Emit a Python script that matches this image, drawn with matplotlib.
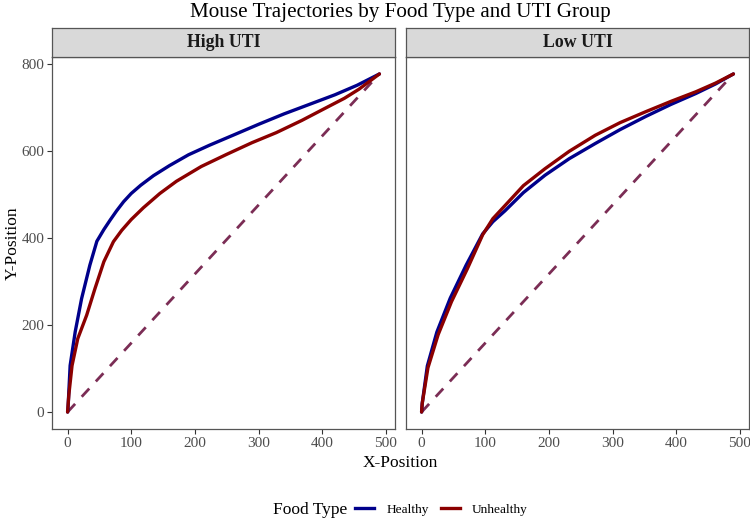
import matplotlib.pyplot as plt
from matplotlib.lines import Line2D

plt.rcParams['font.family'] = ['Liberation Serif', 'DejaVu Serif']

# averaged trajectories
high_healthy_x = [0, 0.6, 4, 12, 22, 35, 46, 57, 67, 77, 88, 100, 115, 135, 160, 190, 223, 260,
                  300, 340, 380, 420, 455, 490]
high_healthy_y = [0, 7, 107, 185, 261, 338, 393, 420, 442, 463, 484, 503, 522, 544, 567, 592, 614,
                  637, 662, 686, 708, 730, 752, 778]
high_unhealthy_x = [0, 2, 7, 16, 30, 43, 57, 72, 85, 100, 119, 145, 171, 210, 250, 290, 328, 368,
                    406, 435, 458, 490]
high_unhealthy_y = [0, 40, 107, 169, 223, 284, 346, 392, 418, 443, 470, 503, 531, 565, 593, 620,
                    643, 671, 700, 722, 743, 778]
low_healthy_x = [0, 1, 9, 24, 45, 70, 96, 112, 131, 160, 194, 232, 273, 312, 352, 392, 431, 462, 490]
low_healthy_y = [0, 20, 106, 184, 262, 338, 410, 438, 463, 505, 545, 583, 618, 650, 680, 708, 733,
                 755, 778]
low_unhealthy_x = [0, 1, 10, 26, 47, 72, 96, 112, 131, 160, 194, 232, 273, 312, 352, 392, 431, 462, 490]
low_unhealthy_y = [0, 20, 102, 178, 254, 330, 408, 445, 475, 521, 560, 600, 637, 666, 691, 715, 737,
                   757, 778]

panels = ['High UTI', 'Low UTI']
food_types = ['Healthy', 'Unhealthy']
colors = {'Healthy': '#00008B', 'Unhealthy': '#8B0000'}
end_point = (490, 778)

data = {
    ('High UTI', 'Healthy'): (high_healthy_x, high_healthy_y),
    ('High UTI', 'Unhealthy'): (high_unhealthy_x, high_unhealthy_y),
    ('Low UTI', 'Healthy'): (low_healthy_x, low_healthy_y),
    ('Low UTI', 'Unhealthy'): (low_unhealthy_x, low_unhealthy_y),
}

fig = plt.figure(figsize=(7.5, 5.2), dpi=100)

W, H = 750, 520
panel_lefts = [52, 406]
panel_w = 343
panel_top, panel_bottom = 57, 429
strip_top = 28

for i, name in enumerate(panels):
    left = panel_lefts[i]
    ax = fig.add_axes([left / W, 1 - panel_bottom / H, panel_w / W, (panel_bottom - panel_top) / H])
    ax.plot([0, end_point[0]], [0, end_point[1]], color='#7B2D55', lw=2.0,
            linestyle=(0, (4, 3.5)))
    for ft in food_types:
        x, y = data[(name, ft)]
        ax.plot(x, y, color=colors[ft], lw=2.4, solid_capstyle='round', solid_joinstyle='round')
    ax.set_xlim(-24.5, 514.5)
    ax.set_ylim(-39, 817)
    ax.set_xticks([0, 100, 200, 300, 400, 500])
    ax.set_yticks([0, 200, 400, 600, 800])
    ax.tick_params(direction='out', length=3.5, width=0.8, color='#333333',
                   labelcolor='#4D4D4D', labelsize=11, pad=2)
    if i == 1:
        ax.set_yticklabels([])
        ax.tick_params(axis='y', length=0)
    for sp in ax.spines.values():
        sp.set_color('#555555')
        sp.set_linewidth(0.9)

    sax = fig.add_axes([left / W, 1 - panel_top / H, panel_w / W, (panel_top - strip_top) / H])
    sax.set_facecolor('#D9D9D9')
    sax.set_xticks([])
    sax.set_yticks([])
    for sp in sax.spines.values():
        sp.set_color('#555555')
        sp.set_linewidth(0.9)
    sax.text(0.5, 0.5, name, ha='center', va='center', fontsize=12.8,
             fontweight='bold', color='#1A1A1A', transform=sax.transAxes)

fig.text(400 / W, 1 - 13 / H, 'Mouse Trajectories by Food Type and UTI Group',
         ha='center', va='center', fontsize=15.2)
fig.text(400 / W, 1 - 463 / H, 'X-Position', ha='center', va='center', fontsize=12.5)
fig.text(13 / W, 1 - 243 / H, 'Y-Position', ha='center', va='center', fontsize=12.5,
         rotation=90)

# legend
fig.text(273 / W, 1 - 510 / H, 'Food Type', ha='left', va='center', fontsize=12.5)
handles = [Line2D([], [], color=colors[ft], lw=2.4) for ft in food_types]
fig.legend(handles, food_types, loc='center left', bbox_to_anchor=(355 / W, 1 - 510 / H),
           ncol=2, frameon=False, fontsize=9.6, handlelength=1.45, handletextpad=0.9,
           columnspacing=0.9, borderaxespad=0, borderpad=0)

fig.savefig('out.png', dpi=100)
